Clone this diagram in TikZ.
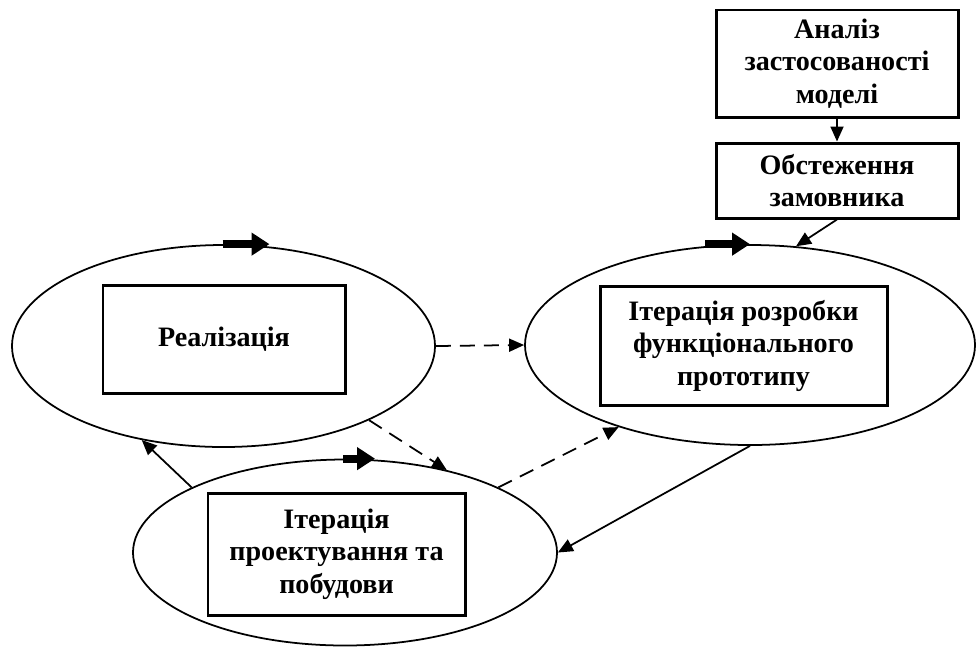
\documentclass[tikz,border=0pt]{standalone}
\usepackage{fontspec}
\setmainfont{Liberation Serif}
\usetikzlibrary{shapes.geometric,arrows.meta}

\begin{document}
\begin{tikzpicture}[x=0.2mm,y=-0.2mm,
    txt/.style={font=\fontsize{16}{18.5}\selectfont\bfseries, align=center},
    box/.style={txt, draw, line width=1.7pt, inner sep=0pt},
    oval/.style={ellipse, draw, line width=1pt, inner sep=0pt},
    link/.style={line width=1pt, -{Triangle[length=3mm,width=2.6mm]}},
    dlink/.style={link, dash pattern=on 3mm off 1.8mm},
    flow/.style={line width=4.5pt, -{Triangle[length=3.6mm,width=4.4mm]}}]
    \useasboundingbox (0,0) rectangle (976,647);

    % Nodes
    \node[oval, minimum width=84.6mm, minimum height=40.4mm] (real) at (223.5,346) {};
    \node[oval, minimum width=90mm, minimum height=40mm] (proto) at (750,345) {};
    \node[oval, minimum width=84.8mm, minimum height=37.2mm] (iter) at (345,552.5) {};

    \node[box, minimum width=48.4mm, minimum height=21.4mm] (analiz) at (837,63.5) {Аналіз\\застосованості\\моделі};
    \node[box, minimum width=48.4mm, minimum height=15mm] (obst) at (837,180.5) {Обстеження\\замовника};

    \node[box, minimum width=48.4mm, minimum height=21.6mm] (realbox) at (224,339) {Реалізація};
    \node[box, minimum width=57.4mm, minimum height=23.8mm] (protobox) at (743.5,345.5) {Ітерація розробки\\функціонального\\прототипу};
    \node[box, minimum width=51.4mm, minimum height=24.4mm] (iterbox) at (336.5,554) {Ітерація\\проектування та\\побудови};

    % Lines
    \draw[link] (analiz) -- (obst);
    \draw[link] (obst.south) -- (proto.65);

    \draw[dlink] (real.east) -- (proto.west);
    \draw[dlink] (real.-27) -- (iter.39);
    \draw[dlink] (iter.23) -- (proto.212);

    \draw[link] (proto.south) -- (iter.east);
    \draw[link] (iter.157) -- (real.229);

    % Direction marks
    \draw[flow] ([xshift=-0.2mm]real.north) -- ++(47,0);
    \draw[flow] ([xshift=-9mm]proto.north) -- (proto.north);
    \draw[flow] ([xshift=-0.4mm]iter.north) -- ++(32,0);
\end{tikzpicture}
\end{document}
